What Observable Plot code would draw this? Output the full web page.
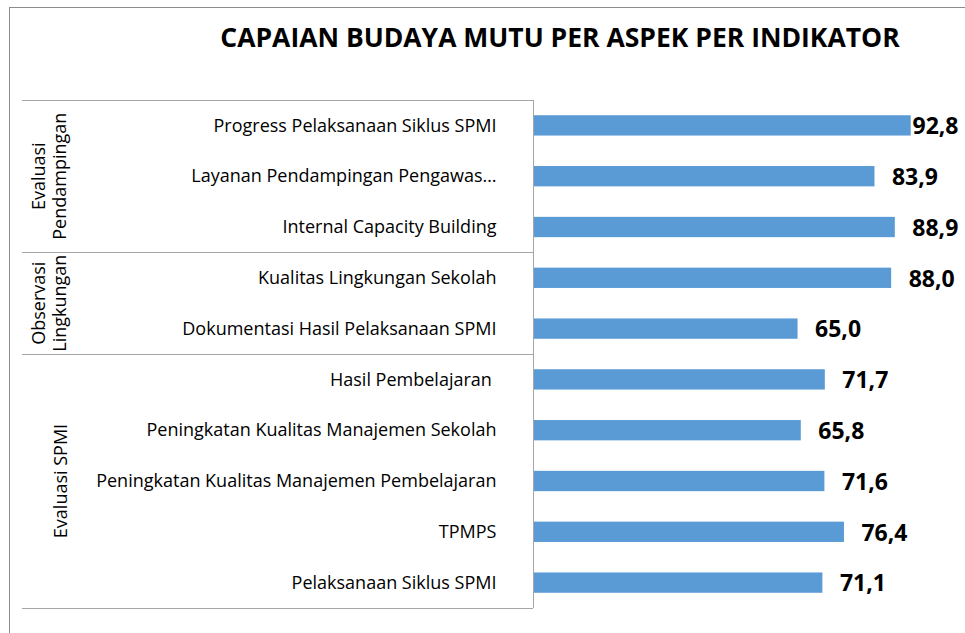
<!DOCTYPE html>
<html>
<head>
<meta charset="utf-8">
<script src="https://cdn.jsdelivr.net/npm/d3@7"></script>
<script src="https://cdn.jsdelivr.net/npm/@observablehq/plot@0.6"></script>
<style>
  html, body { margin: 0; padding: 0; background: #fff; }
  body { width: 965px; height: 633px; overflow: hidden; position: relative; font-family: "Open Sans", sans-serif; color: #000; }
  #frame { position: absolute; left: 9px; top: 7px; width: 1000px; height: 700px; border: 1px solid #8c8c8c; box-sizing: border-box; pointer-events: none; }
  #title { position: relative; height: 60px; }
  #title span { position: absolute; left: 0; width: 1120px; text-align: center; top: 19px; font-size: 26.5px; font-weight: 700; line-height: normal; white-space: nowrap; }
  #chart svg { display: block; }
</style>
</head>
<body>
<div id="frame"></div>
<div id="title"><span>CAPAIAN BUDAYA MUTU PER ASPEK PER INDIKATOR</span></div>
<div id="chart"></div>
<script>
// ---- data ----
const groups = ["Evaluasi Pendampingan", "Observasi Lingkungan", "Evaluasi SPMI"];
const groupLabelLines = [["Evaluasi", "Pendampingan"], ["Observasi", "Lingkungan"], ["Evaluasi SPMI"]];
const indicators = [
  "Progress Pelaksanaan Siklus SPMI",
  "Layanan Pendampingan Pengawas…",
  "Internal Capacity Building",
  "Kualitas Lingkungan Sekolah",
  "Dokumentasi Hasil Pelaksanaan SPMI",
  "Hasil Pembelajaran\u00a0",
  "Peningkatan Kualitas Manajemen Sekolah",
  "Peningkatan Kualitas Manajemen Pembelajaran",
  "TPMPS",
  "Pelaksanaan Siklus SPMI"
];
const indicatorGroup = [0, 0, 0, 1, 1, 2, 2, 2, 2, 2];
const values = [92.8, 83.9, 88.9, 88.0, 65.0, 71.7, 65.8, 71.6, 76.4, 71.1];

const data = indicators.map((name, i) => ({name, group: groups[indicatorGroup[i]], value: values[i]}));
const fmt = v => v.toFixed(1).replace(".", ",");
// labels that would run past the right edge are pulled in (as in the original)
const overflow = d => d.value > 90;

const FONT = "Open Sans, sans-serif";

// group brackets + rotated group labels, positioned from the y scale
function groupBrackets(index, scales, vals, dims) {
  const y = scales.y;
  const ys = scales.scales && scales.scales.y;
  const step = typeof y.step === "function" ? y.step() : ys.step;
  const bw = typeof y.bandwidth === "function" ? y.bandwidth() : ys.bandwidth;
  const gap = (step - bw) / 2;
  const xLeft = 22, xRight = dims.marginLeft;
  const g = d3.create("svg:g");
  let bounds = [];
  groups.forEach((grp, gi) => {
    const members = indicators.filter((_, i) => indicatorGroup[i] === gi);
    const top = y(members[0]) - gap;
    const bottom = y(members[members.length - 1]) + bw + gap;
    bounds.push(top, bottom);
    const mid = (top + bottom) / 2;
    const lines = groupLabelLines[gi];
    const xs = lines.length === 2 ? [39, 60] : [61];
    lines.forEach((t, li) => {
      g.append("text")
        .attr("transform", `translate(${xs[li]},${mid}) rotate(-90)`)
        .attr("text-anchor", "middle")
        .attr("dy", "0.35em")
        .attr("font-family", FONT)
        .attr("font-size", 18)
        .attr("fill", "#000")
        .text(t);
    });
  });
  bounds = [...new Set(bounds.map(b => Math.round(b * 10) / 10))];
  bounds.forEach(b => {
    g.append("line")
      .attr("x1", xLeft).attr("x2", xRight)
      .attr("y1", Math.round(b) + 0.5).attr("y2", Math.round(b) + 0.5)
      .attr("stroke", "#a6a6a6");
  });
  return g.node();
}

const chart = Plot.plot({
  width: 965,
  height: 573,
  marginTop: 40,
  marginBottom: 25,
  marginLeft: 533,
  marginRight: 25,
  style: {fontFamily: FONT, color: "#000", background: "transparent"},
  x: {domain: [0, 100], axis: null},
  y: {domain: indicators, paddingInner: 0.6, paddingOuter: 0.3, round: false, label: null},
  marks: [
    Plot.barX(data, {x: "value", y: "name", fill: "#5B9BD5"}),
    Plot.ruleX([0], {stroke: "#a6a6a6"}),
    Plot.axisY({tickSize: 0, tickPadding: 37, fontSize: 18, label: null}),
    groupBrackets,
    Plot.text(data, {filter: d => !overflow(d), x: "value", y: "name", text: d => fmt(d.value),
      textAnchor: "start", dx: 17, dy: 1, fontSize: 23, fontWeight: "bold", fill: "#000"}),
    Plot.text(data, {filter: overflow, y: "name", frameAnchor: "right", text: d => fmt(d.value),
      textAnchor: "end", dx: 18, dy: 1, fontSize: 23, fontWeight: "bold", fill: "#000"})
  ]
});
document.getElementById("chart").appendChild(chart);
</script>
</body>
</html>
